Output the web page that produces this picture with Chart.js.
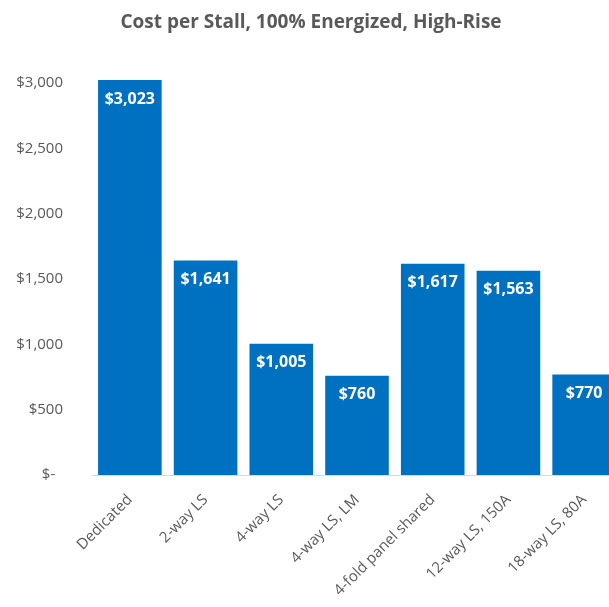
<!DOCTYPE html>
<html>
<head>
<meta charset="utf-8">
<script src="https://cdn.jsdelivr.net/npm/chart.js@4/dist/chart.umd.min.js"></script>
<style>
  html, body { margin: 0; padding: 0; background: #fff; overflow: hidden; }
  #wrap { width: 640px; height: 607px; }
</style>
</head>
<body>
<div id="wrap"><canvas id="myChart" width="640" height="607"></canvas></div>
<script>
// chart data
const categories = ['Dedicated', '2-way LS', '4-way LS', '4-way LS, LM', '4-fold panel shared', '12-way LS, 150A', '18-way LS, 80A'];
const costPerStall = [3023, 1641, 1005, 760, 1617, 1563, 770];
const yTicks = [0, 500, 1000, 1500, 2000, 2500, 3000];

function money(v) {
  if (v === 0) return '$-  ';
  return '$' + v.toLocaleString('en-US');
}

// white value labels inside the top of each bar
const barLabels = {
  id: 'barLabels',
  afterDatasetsDraw(chart) {
    const ctx = chart.ctx;
    const meta = chart.getDatasetMeta(0);
    ctx.save();
    ctx.fillStyle = '#ffffff';
    ctx.font = 'bold 16px "Open Sans"';
    ctx.textAlign = 'center';
    ctx.textBaseline = 'middle';
    meta.data.forEach((bar, i) => {
      ctx.fillText(money(chart.data.datasets[0].data[i]), bar.x, bar.y + 19);
    });
    ctx.restore();
  }
};

new Chart(document.getElementById('myChart'), {
  type: 'bar',
  data: {
    labels: categories,
    datasets: [{
      label: 'Cost per Stall',
      data: costPerStall,
      backgroundColor: '#0070c0',
      borderWidth: 0,
      barPercentage: 0.84,
      categoryPercentage: 1,
      clip: false
    }]
  },
  options: {
    responsive: false,
    animation: false,
    layout: { padding: { left: 0, right: 18, top: 0, bottom: 0 } },
    plugins: {
      legend: { display: false },
      tooltip: { enabled: false },
      title: {
        display: true,
        text: 'Cost per Stall, 100% Energized, High-Rise',
        color: '#595959',
        font: { family: '"Open Sans"', size: 19, weight: 'bold' },
        padding: { top: 11, bottom: 49.2 }
      }
    },
    scales: {
      x: {
        grid: { display: false },
        border: { display: true, color: '#d9d9d9', width: 1 },
        ticks: {
          color: '#595959',
          font: { family: '"Open Sans"', size: 15 },
          minRotation: 45,
          maxRotation: 45,
          padding: 8
        },
        afterFit(scale) { scale.height = 132; }
      },
      y: {
        min: 0,
        max: 3000,
        grid: { display: false },
        border: { display: false },
        afterBuildTicks(scale) { scale.ticks = yTicks.map(v => ({ value: v })); },
        ticks: {
          color: '#595959',
          font: { family: '"Open Sans"', size: 15 },
          padding: 21,
          callback: v => money(v)
        },
        afterFit(scale) { scale.width = 92; }
      }
    }
  },
  plugins: [barLabels]
});
</script>
</body>
</html>
